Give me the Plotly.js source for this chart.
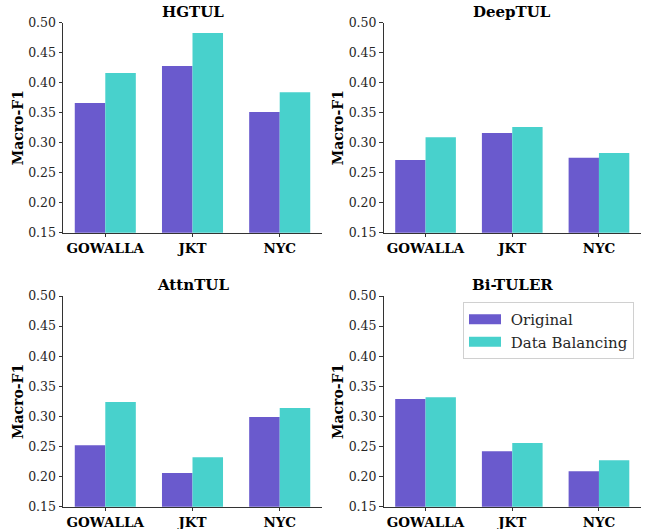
<!DOCTYPE html>
<html>
<head>
<meta charset="utf-8">
<script src="https://cdn.plot.ly/plotly-3.0.1.min.js"></script>
<style>html,body{margin:0;padding:0;background:#fff;}#chart{width:648px;height:529px;}</style>
</head>
<body>
<div id="chart"></div>
<script>
const categories = ["GOWALLA", "JKT", "NYC"];
const models = ["HGTUL", "DeepTUL", "AttnTUL", "Bi-TULER"];
const seriesNames = ["Original", "Data Balancing"];
const hgtulOriginal = [0.366, 0.428, 0.351];
const hgtulBalanced = [0.416, 0.483, 0.384];
const deeptulOriginal = [0.271, 0.316, 0.275];
const deeptulBalanced = [0.309, 0.326, 0.283];
const attntulOriginal = [0.252, 0.206, 0.299];
const attntulBalanced = [0.324, 0.232, 0.314];
const bituleOriginal = [0.329, 0.242, 0.209];
const bituleBalanced = [0.332, 0.256, 0.227];
const yTicks = [0.15, 0.20, 0.25, 0.30, 0.35, 0.40, 0.45, 0.50];

const colors = ["#6A5ACD", "#48D1CC"];
const serif = "DejaVu Serif";
const panelData = [
  [hgtulOriginal, hgtulBalanced],
  [deeptulOriginal, deeptulBalanced],
  [attntulOriginal, attntulBalanced],
  [bituleOriginal, bituleBalanced]
];

const W = 648, H = 529;
const xDomains = [[63/W, 322/W], [383.5/W, 641/W]];
const yDomains = [[(H-232.7)/H, (H-22.7)/H], [(H-506.7)/H, (H-296)/H]];

const traces = [];
const layout = {
  width: W, height: H,
  margin: {l: 0, r: 0, t: 0, b: 0},
  paper_bgcolor: "#fff", plot_bgcolor: "#fff",
  barmode: "group", bargap: 0.3, bargroupgap: 0,
  font: {family: serif, size: 12.5, color: "#262626"},
  showlegend: true,
  legend: {
    x: 463/W, y: (H-302)/H, xanchor: "left", yanchor: "top",
    bordercolor: "#d0d0d0", borderwidth: 1, bgcolor: "rgba(255,255,255,0.8)",
    font: {family: serif, size: 15, color: "#262626"},
    itemwidth: 32, tracegroupgap: 0
  },
  annotations: []
};

for (let p = 0; p < 4; p++) {
  const row = Math.floor(p / 2), col = p % 2;
  const idx = p === 0 ? "" : String(p + 1);
  const xa = "x" + idx, ya = "y" + idx;
  for (let s = 0; s < 2; s++) {
    traces.push({
      type: "bar", x: categories, y: panelData[p][s],
      name: seriesNames[s], xaxis: xa, yaxis: ya,
      marker: {color: colors[s], line: {width: 0}},
      showlegend: false, legendgroup: seriesNames[s],
      hoverinfo: "skip"
    });
  }
  layout["xaxis" + idx] = {
    domain: xDomains[col], anchor: ya,
    range: [-0.485, 2.485],
    showline: true, linecolor: "#333", linewidth: 1,
    ticks: "outside", ticklen: 3.5, tickcolor: "#333",
    tickfont: {family: serif, size: 13.5, weight: "bold", color: "#000"},
    showgrid: false, zeroline: false, fixedrange: true
  };
  layout["yaxis" + idx] = {
    domain: yDomains[row], anchor: xa,
    range: [0.15, 0.50],
    tickvals: yTicks, tickformat: ".2f",
    showline: true, linecolor: "#333", linewidth: 1,
    ticks: "outside", ticklen: 3.5, tickcolor: "#333",
    tickfont: {family: serif, size: 12.5, color: "#262626"},
    title: {text: "Macro-F1", font: {family: serif, size: 14, weight: "bold", color: "#000"}, standoff: 1},
    showgrid: false, zeroline: false, fixedrange: true
  };
  layout.annotations.push({
    text: "<b>" + models[p] + "</b>",
    xref: "paper", yref: "paper",
    x: (xDomains[col][0] + xDomains[col][1]) / 2,
    y: yDomains[row][1], xanchor: "center", yanchor: "bottom", yshift: 0,
    showarrow: false,
    font: {family: serif, size: 15, color: "#000"}
  });
}

// legend entries (legend-only traces, drawn as wide swatches like the reference)
for (let s = 0; s < 2; s++) {
  traces.push({
    type: "scatter", mode: "lines", x: [null], y: [null],
    xaxis: "x4", yaxis: "y4",
    name: "\u00a0" + seriesNames[s], line: {color: colors[s], width: 11},
    showlegend: true, legendgroup: seriesNames[s], hoverinfo: "skip"
  });
}

Plotly.newPlot("chart", traces, layout, {displayModeBar: false, staticPlot: true});
</script>
</body>
</html>
